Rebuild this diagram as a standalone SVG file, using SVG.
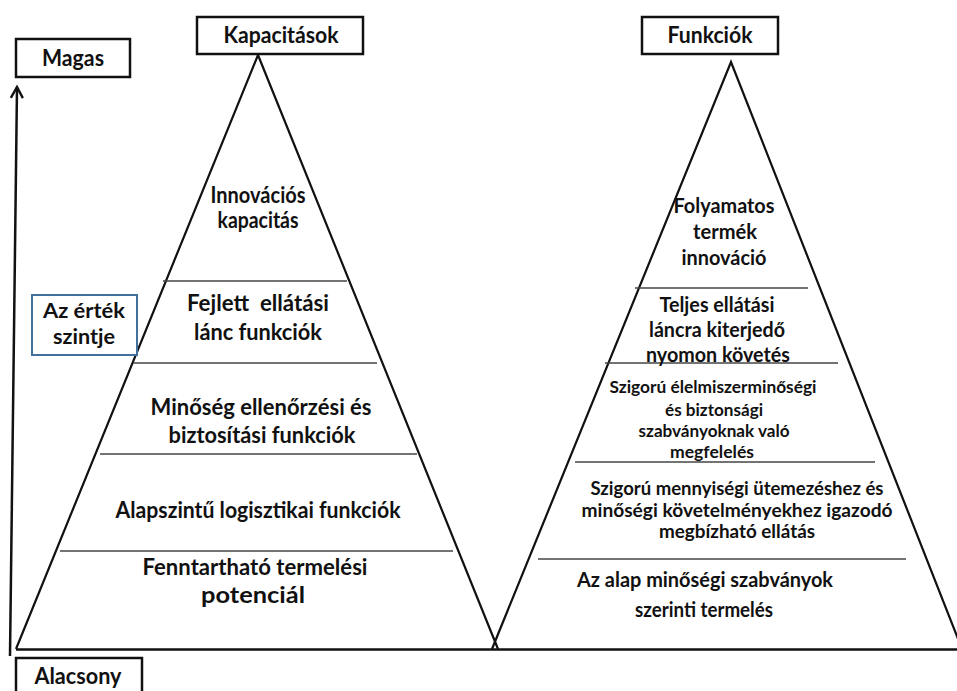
<svg xmlns="http://www.w3.org/2000/svg" width="957" height="691" viewBox="0 0 957 691">
<defs>
<style>
.t{font-family:Lato,"Liberation Sans",sans-serif;font-weight:bold;fill:#111;text-anchor:middle}
.f22{font-size:22px}
.f21{font-size:21px}
.f20{font-size:20px}
.f18{font-size:18px}
.f17{font-size:17px}
.box{fill:#fff;stroke:#111;stroke-width:2.5}
.side{stroke:#111;stroke-width:2.2;fill:none}
.div{stroke:#444;stroke-width:1.5}
</style>
<marker id="arr" markerWidth="16" markerHeight="16" refX="13" refY="7" orient="auto" markerUnits="userSpaceOnUse" viewBox="0 0 16 14">
<polyline points="2,1 13,7 2,13" fill="none" stroke="#111" stroke-width="2.4"/>
</marker>
</defs>
<rect width="957" height="691" fill="#fff"/>

<g id="connectors">
<line x1="10" y1="656" x2="17" y2="87" stroke="#111" stroke-width="2.5" marker-end="url(#arr)"/>
</g>

<g id="pyramid-left">
<polyline class="side" points="16,649 258,55 498,649"/>
<line class="div" x1="163" y1="281" x2="347" y2="281"/>
<line class="div" x1="133" y1="363" x2="377" y2="363"/>
<line class="div" x1="100" y1="454" x2="417" y2="454"/>
<line class="div" x1="60" y1="551" x2="453" y2="551"/>
<text class="t f22" x="258" y="203" textLength="95" lengthAdjust="spacingAndGlyphs">Innovációs</text>
<text class="t f22" x="258" y="228" textLength="81" lengthAdjust="spacingAndGlyphs">kapacitás</text>
<text class="t f22" x="258" y="311" textLength="142" lengthAdjust="spacingAndGlyphs" xml:space="preserve">Fejlett  ellátási</text>
<text class="t f22" x="258" y="340" textLength="128" lengthAdjust="spacingAndGlyphs">lánc funkciók</text>
<text class="t f22" x="261" y="415" textLength="221" lengthAdjust="spacingAndGlyphs">Minőség ellenőrzési és</text>
<text class="t f22" x="262" y="443" textLength="187" lengthAdjust="spacingAndGlyphs">biztosítási funkciók</text>
<text class="t f22" x="258" y="518" textLength="285" lengthAdjust="spacingAndGlyphs">Alapszintű logisztikai funkciók</text>
<text class="t f22" x="255" y="575" textLength="225" lengthAdjust="spacingAndGlyphs">Fenntartható termelési</text>
<text class="t f22" x="253" y="603" textLength="104" lengthAdjust="spacingAndGlyphs">potenciál</text>
</g>

<g id="pyramid-right">
<polyline class="side" points="492,649 731,62 962,649"/>
<line class="div" x1="635" y1="288" x2="808" y2="288"/>
<line class="div" x1="605" y1="363" x2="838" y2="363"/>
<line class="div" x1="575" y1="462" x2="875" y2="462"/>
<line class="div" x1="538" y1="559" x2="906" y2="559"/>
<text class="t f20" x="724" y="213" textLength="101" lengthAdjust="spacingAndGlyphs">Folyamatos</text>
<text class="t f20" x="725" y="239" textLength="64" lengthAdjust="spacingAndGlyphs">termék</text>
<text class="t f20" x="724" y="265" textLength="85" lengthAdjust="spacingAndGlyphs">innováció</text>
<text class="t f20" x="717" y="312" textLength="115" lengthAdjust="spacingAndGlyphs">Teljes ellátási</text>
<text class="t f20" x="717" y="337" textLength="136" lengthAdjust="spacingAndGlyphs">láncra kiterjedő</text>
<text class="t f20" x="718" y="362" textLength="144" lengthAdjust="spacingAndGlyphs">nyomon követés</text>
<text class="t f17" x="713" y="393" textLength="207" lengthAdjust="spacingAndGlyphs">Szigorú élelmiszerminőségi</text>
<text class="t f17" x="714" y="416" textLength="98" lengthAdjust="spacingAndGlyphs">és biztonsági</text>
<text class="t f17" x="714" y="437" textLength="151" lengthAdjust="spacingAndGlyphs">szabványoknak való</text>
<text class="t f17" x="712" y="458" textLength="84" lengthAdjust="spacingAndGlyphs">megfelelés</text>
<text class="t f18" x="737" y="495" textLength="293" lengthAdjust="spacingAndGlyphs">Szigorú mennyiségi ütemezéshez és</text>
<text class="t f18" x="737" y="517" textLength="311" lengthAdjust="spacingAndGlyphs">minőségi követelményekhez igazodó</text>
<text class="t f18" x="737" y="538" textLength="156" lengthAdjust="spacingAndGlyphs">megbízható ellátás</text>
<text class="t f20" x="705" y="587" textLength="256" lengthAdjust="spacingAndGlyphs">Az alap minőségi szabványok</text>
<text class="t f20" x="704" y="617" textLength="138" lengthAdjust="spacingAndGlyphs">szerinti termelés</text>
</g>

<g id="base">
<line x1="16" y1="649.5" x2="957" y2="649.5" stroke="#111" stroke-width="2.5"/>
</g>

<g id="magas">
<rect class="box" x="16" y="39" width="114" height="38"/>
<text class="t f22" x="73" y="66" textLength="62" lengthAdjust="spacingAndGlyphs">Magas</text>
</g>

<g id="kapacitasok">
<rect class="box" x="197" y="17" width="166" height="37"/>
<text class="t f22" x="281" y="43" textLength="115" lengthAdjust="spacingAndGlyphs">Kapacitások</text>
</g>

<g id="funkciok">
<rect class="box" x="642" y="17" width="136" height="37"/>
<text class="t f22" x="710" y="43" textLength="85" lengthAdjust="spacingAndGlyphs">Funkciók</text>
</g>

<g id="ertek-szintje">
<rect x="32" y="295" width="105" height="60" fill="#fff" stroke="#41719C" stroke-width="2"/>
<text class="t f21" x="84" y="318" textLength="82" lengthAdjust="spacingAndGlyphs">Az érték</text>
<text class="t f21" x="84" y="344" textLength="62" lengthAdjust="spacingAndGlyphs">szintje</text>
</g>

<g id="alacsony">
<rect class="box" x="16" y="658" width="126" height="45"/>
<text class="t f22" x="78" y="684" textLength="87" lengthAdjust="spacingAndGlyphs">Alacsony</text>
</g>
</svg>
